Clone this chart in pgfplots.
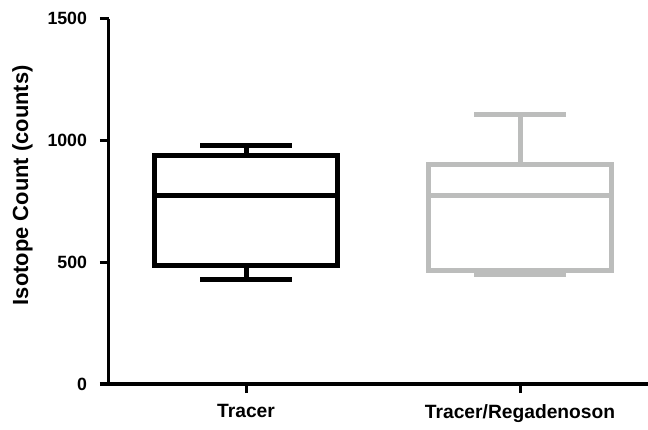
\documentclass[border=0pt]{standalone}
\usepackage{pgfplots}
\pgfplotsset{compat=1.18}
\usepackage{fontspec}
\setmainfont{Liberation Sans}
\definecolor{boxgray}{RGB}{188,189,188}
\begin{document}
\begin{tikzpicture}
\path[use as bounding box] (-109bp,-46bp) rectangle (539bp,384bp);
\begin{axis}[
  at={(0,0)}, anchor=south west,
  scale only axis, width=539bp, height=365.3bp,
  xmin=0.5, xmax=2.467, ymin=0, ymax=1500,
  axis lines=left, axis line style={-, line width=3bp, black},
  clip=false,
  xtick={1,2}, xticklabels={Tracer, Tracer/Regadenoson},
  ytick={0,500,1000,1500}, yticklabels={0,500,1000,1500}, minor tick num=0,
  tick align=outside, major tick length=9bp,
  tick style={line width=3bp, black},
  every y tick label/.append style={font=\fontsize{17.8}{20}\selectfont\bfseries, xshift=-9.5bp},
  every x tick label/.append style={font=\fontsize{19.3}{22}\selectfont\bfseries, yshift=-8bp},
  ylabel={Isotope Count (counts)},
  ylabel style={font=\fontsize{22}{25}\selectfont\bfseries, at={(axis description cs:-0.1605,0.544)}, anchor=center},
]
% Tracer: whiskers 431 / 978, quartiles 486 / 940, median 776
\addplot[black, line width=5bp, line cap=rect, line join=miter] coordinates {(0.666,486) (1.334,486) (1.334,940) (0.666,940) (0.666,486)};
\addplot[black, line width=5bp] coordinates {(0.666,776) (1.334,776)};
\addplot[black, line width=5bp] coordinates {(1,940) (1,978)};
\addplot[black, line width=5bp] coordinates {(0.8335,978) (1.1665,978)};
\addplot[black, line width=5bp] coordinates {(1,486) (1,431)};
\addplot[black, line width=5bp] coordinates {(0.8335,431) (1.1665,431)};
% Tracer/Regadenoson: whiskers 451 / 1108, quartiles 465 / 901, median 773
\addplot[boxgray, line width=5bp, line cap=rect, line join=miter] coordinates {(1.666,465) (2.334,465) (2.334,901) (1.666,901) (1.666,465)};
\addplot[boxgray, line width=5bp] coordinates {(1.666,773) (2.334,773)};
\addplot[boxgray, line width=5bp] coordinates {(2,901) (2,1108)};
\addplot[boxgray, line width=5bp] coordinates {(1.8335,1108) (2.1665,1108)};
\addplot[boxgray, line width=5bp] coordinates {(2,465) (2,451)};
\addplot[boxgray, line width=5bp] coordinates {(1.8335,451) (2.1665,451)};
\end{axis}
\end{tikzpicture}
\end{document}
